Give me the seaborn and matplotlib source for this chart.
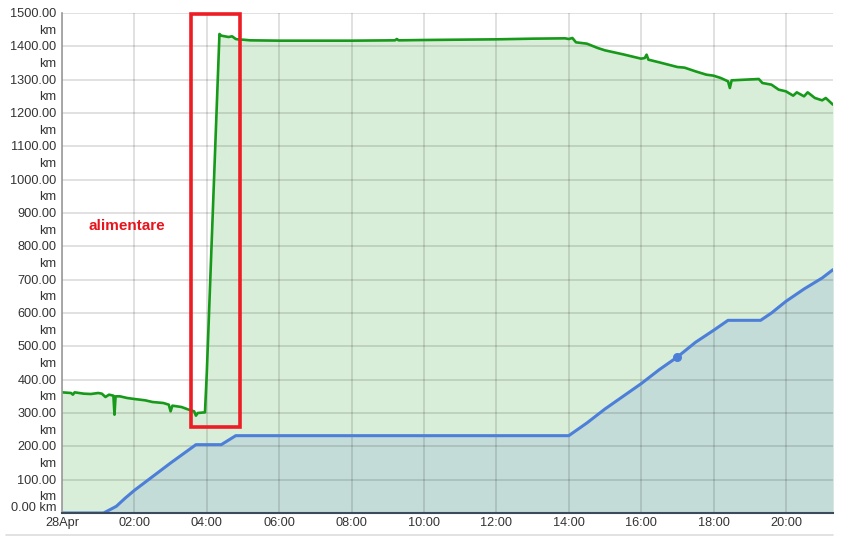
import numpy as np
import pandas as pd
import matplotlib
matplotlib.use('Agg')
import matplotlib.pyplot as plt
import seaborn as sns
from matplotlib.patches import Rectangle
from matplotlib.lines import Line2D
from matplotlib.transforms import ScaledTranslation

# Green series (hours since 28Apr 00:00, km)
green_hours = [0.00, 0.25, 0.30, 0.35, 0.60, 0.80, 1.00, 1.10, 1.20, 1.30, 1.42, 1.45, 1.48,
               1.60, 1.80, 2.00, 2.30, 2.50, 2.80, 2.95, 3.00, 3.05, 3.30, 3.50, 3.65, 3.70,
               3.75, 3.95, 4.00, 4.35, 4.40, 4.50, 4.60, 4.70, 4.80, 4.90, 5.00, 5.20, 6.00,
               8.00, 9.20, 9.25, 9.30, 10.00, 12.00, 13.00, 13.90, 14.00, 14.10, 14.20, 14.50,
               14.80, 15.00, 15.50, 16.00, 16.10, 16.15, 16.20, 16.50, 17.00, 17.20, 17.50,
               17.80, 18.00, 18.20, 18.40, 18.45, 18.50, 19.25, 19.35, 19.60, 19.80, 20.00,
               20.20, 20.30, 20.50, 20.60, 20.80, 21.00, 21.10, 21.30]
green_km = [362, 360, 355, 362, 358, 357, 360, 358, 348, 355, 352, 295, 350,
            350, 345, 342, 338, 333, 330, 325, 305, 322, 318, 310, 305, 292,
            300, 302, 420, 1437, 1432, 1430, 1428, 1430, 1422, 1420, 1420, 1418, 1417,
            1417, 1418, 1422, 1418, 1419, 1421, 1423, 1424, 1422, 1425, 1412, 1408,
            1395, 1388, 1376, 1363, 1365, 1375, 1360, 1352, 1338, 1336, 1325,
            1315, 1312, 1305, 1295, 1275, 1298, 1302, 1290, 1285, 1270, 1265,
            1252, 1262, 1250, 1262, 1245, 1238, 1245, 1225]

# Blue series
blue_hours = [0.00, 1.15, 1.50, 1.75, 2.00, 3.00, 3.70, 4.40, 4.80, 14.00, 14.50, 15.00,
              15.50, 16.00, 16.50, 17.00, 17.50, 18.00, 18.40, 19.30, 19.60, 20.00, 20.50,
              21.00, 21.30]
blue_km = [0, 0, 20, 45, 68, 150, 205, 205, 232, 232, 270, 312,
           350, 388, 430, 468, 512, 548, 578, 578, 600, 635, 672,
           705, 730]

marker_hour = [17.0]
marker_km = [468]

tick_hours = [0, 2, 4, 6, 8, 10, 12, 14, 16, 18, 20]
tick_labels = ['28Apr', '02:00', '04:00', '06:00', '08:00', '10:00', '12:00',
               '14:00', '16:00', '18:00', '20:00']
y_ticks = list(range(0, 1501, 100))

# highlight box (hours / km) and note
box_x = [3.55, 4.93]
box_y = [259, 1497]
note_text = 'alimentare'
note_pos = (1.78, 862)

green_df = pd.DataFrame({'hour': green_hours, 'km': green_km})
blue_df = pd.DataFrame({'hour': blue_hours, 'km': blue_km})

sns.set_style('white')
plt.rcParams['font.family'] = ['Liberation Sans', 'DejaVu Sans']

fig = plt.figure(figsize=(8.47, 5.49), dpi=100)
ax = fig.add_axes([62 / 847, 1 - 513 / 549, (833 - 62) / 847, 500 / 549])

ax.fill_between(green_df['hour'], 0, green_df['km'], color='#d9eed8', lw=0, zorder=1)
ax.fill_between(blue_df['hour'], 0, blue_df['km'], color='#c3dcd8', lw=0, zorder=1.1)
sns.lineplot(data=green_df, x='hour', y='km', color='#17991a', lw=1.9, ax=ax, zorder=3)
sns.lineplot(data=blue_df, x='hour', y='km', color='#4d7fd9', lw=2.2, ax=ax, zorder=3)
ax.scatter(marker_hour, marker_km, color='#4d7fd9', s=30, zorder=4)

ax.set_xlim(0, 21.3)
ax.set_ylim(0, 1500)
ax.set_xlabel('')
ax.set_ylabel('')

ax.set_xticks(tick_hours)
ax.set_xticklabels(tick_labels)
ax.set_yticks(y_ticks)
ax.set_yticklabels(['0.00 km' if v == 0 else f'{v}.00\nkm' for v in y_ticks])
ax.tick_params(axis='both', length=0, labelsize=9.2, labelcolor='#333333')
ax.tick_params(axis='x', pad=3)
ax.tick_params(axis='y', pad=4)

offset = ScaledTranslation(0, 3.5 / 72, fig.dpi_scale_trans)
zero_offset = ScaledTranslation(0, 8 / 72, fig.dpi_scale_trans)
for i, lbl in enumerate(ax.get_yticklabels()):
    lbl.set_verticalalignment('top')
    lbl.set_linespacing(1.5)
    lbl.set_transform(lbl.get_transform() + (zero_offset if i == 0 else offset))

ax.set_axisbelow(False)
ax.grid(True, color='black', alpha=0.14, lw=1.2, zorder=2.5)

for side in ['top', 'right']:
    ax.spines[side].set_visible(False)
ax.spines['left'].set_color('#999999')
ax.spines['left'].set_linewidth(1.2)
ax.spines['bottom'].set_color('#3c4b5c')
ax.spines['bottom'].set_linewidth(1.5)
ax.spines['left'].set_zorder(5)
ax.spines['bottom'].set_zorder(5)

ax.add_patch(Rectangle((box_x[0], box_y[0]), box_x[1] - box_x[0], box_y[1] - box_y[0],
                       fill=False, edgecolor='#ee1c25', lw=2.6, zorder=6, clip_on=False))
ax.text(note_pos[0], note_pos[1], note_text, color='#e8141c', fontsize=11,
        fontweight='bold', ha='center', va='center', zorder=6)

fig.add_artist(Line2D([6 / 847, 833 / 847], [1 - 535 / 549, 1 - 535 / 549],
                      color='#dddddd', lw=1.2))

fig.savefig('out.png', dpi=100)
